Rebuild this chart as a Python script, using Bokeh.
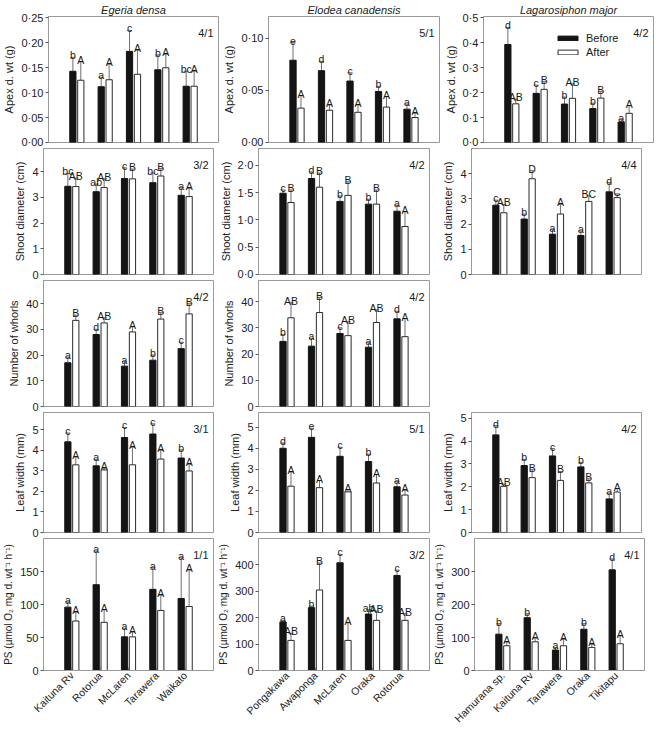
import math
from bokeh.plotting import figure
from bokeh.models import (Range1d, FixedTicker, CustomJSTickFormatter, Whisker, TeeHead,
                          ColumnDataSource, Label, Legend, LegendItem, Spacer)
from bokeh.layouts import row, column
from bokeh.core.properties import value
from bokeh.embed import file_html
from bokeh.resources import INLINE

# ---------------- data ----------------
species = ["Egeria densa", "Elodea canadensis", "Lagarosiphon major"]
cats_eg = ["Kaituna Rv", "Rotorua", "McLaren", "Tarawera", "Waikato"]
cats_el = ["Pongakawa", "Awaponga", "McLaren", "Oraka", "Rotorua"]
cats_la = ["Hamurana sp.", "Kaituna Rv", "Tarawera", "Oraka", "Tikitapu"]

ylabels = ["Apex d. wt (g)", "Shoot diameter (cm)", "Number of whorls", "Leaf width (mm)",
           "PS (\u00b5mol O\u2082 mg d. wt\u207b\u00b9 h\u207b\u00b9)"]

# Egeria densa
eg_apex_b = [0.143, 0.112, 0.183, 0.146, 0.113]
eg_apex_b_se = [0.028, 0.019, 0.042, 0.030, 0.030]
eg_apex_b_let = ["b", "a", "c", "b", "bc"]
eg_apex_a = [0.125, 0.126, 0.137, 0.150, 0.113]
eg_apex_a_se = [0.037, 0.031, 0.048, 0.027, 0.030]
eg_apex_a_let = ["A", "A", "A", "A", "A"]

eg_shoot_b = [3.43, 3.22, 3.73, 3.57, 3.08]
eg_shoot_b_se = [0.50, 0.30, 0.42, 0.38, 0.30]
eg_shoot_b_let = ["bc", "ab", "c", "bc", "a"]
eg_shoot_a = [3.42, 3.38, 3.72, 3.83, 3.03]
eg_shoot_a_se = [0.33, 0.34, 0.38, 0.29, 0.32]
eg_shoot_a_let = ["AB", "AB", "B", "B", "A"]

eg_whorl_b = [17.0, 28.0, 15.7, 18.0, 22.5]
eg_whorl_b_se = [2.2, 2.0, 1.8, 2.0, 2.5]
eg_whorl_b_let = ["a", "d", "a", "b", "c"]
eg_whorl_a = [33.5, 32.5, 29.0, 34.0, 36.0]
eg_whorl_a_se = [2.0, 2.0, 2.0, 2.5, 4.0]
eg_whorl_a_let = ["B", "AB", "A", "B", "B"]

eg_leaf_b = [4.42, 3.25, 4.63, 4.80, 3.63]
eg_leaf_b_se = [0.43, 0.32, 0.49, 0.50, 0.40]
eg_leaf_b_let = ["c", "a", "c", "c", "b"]
eg_leaf_a = [3.30, 3.05, 3.30, 3.58, 3.00]
eg_leaf_a_se = [0.38, 0.08, 0.85, 0.42, 0.32]
eg_leaf_a_let = ["A", "A", "A", "A", "A"]

eg_ps_b = [96, 130, 51, 123, 109]
eg_ps_b_se = [8, 51, 13, 33, 62]
eg_ps_b_let = ["a", "a", "a", "a", "a"]
eg_ps_a = [75, 73, 51, 91, 97]
eg_ps_a_se = [13, 19, 7, 23, 55]
eg_ps_a_let = ["A", "A", "A", "A", "A"]

# Elodea canadensis
el_apex_b = [0.079, 0.069, 0.059, 0.049, 0.032]
el_apex_b_se = [0.017, 0.009, 0.008, 0.005, 0.005]
el_apex_b_let = ["e", "d", "c", "b", "a"]
el_apex_a = [0.033, 0.031, 0.029, 0.034, 0.024]
el_apex_a_se = [0.012, 0.005, 0.007, 0.010, 0.004]
el_apex_a_let = ["A", "A", "A", "A", "A"]

el_shoot_b = [1.49, 1.76, 1.34, 1.29, 1.16]
el_shoot_b_se = [0.06, 0.12, 0.10, 0.09, 0.11]
el_shoot_b_let = ["c", "d", "b", "b", "a"]
el_shoot_a = [1.32, 1.60, 1.45, 1.29, 0.88]
el_shoot_a_se = [0.23, 0.26, 0.25, 0.26, 0.27]
el_shoot_a_let = ["B", "B", "B", "B", "A"]

el_whorl_b = [24.8, 23.0, 27.8, 22.6, 33.4]
el_whorl_b_se = [2.7, 3.0, 2.2, 1.7, 2.9]
el_whorl_b_let = ["b", "a", "c", "a", "d"]
el_whorl_a = [33.8, 35.8, 27.0, 32.0, 26.6]
el_whorl_a_se = [5.7, 5.7, 5.3, 4.8, 6.9]
el_whorl_a_let = ["AB", "B", "AB", "AB", "A"]

el_leaf_b = [4.00, 4.52, 3.62, 3.37, 2.17]
el_leaf_b_se = [0.25, 0.43, 0.43, 0.35, 0.25]
el_leaf_b_let = ["d", "e", "c", "b", "a"]
el_leaf_a = [2.20, 2.13, 1.93, 2.35, 1.78]
el_leaf_a_se = [0.67, 0.34, 0.10, 0.40, 0.22]
el_leaf_a_let = ["A", "A", "A", "A", "A"]

el_ps_b = [184, 238, 408, 214, 360]
el_ps_b_se = [6, 6, 32, 16, 20]
el_ps_b_let = ["a", "b", "c", "ab", "c"]
el_ps_a = [114, 305, 114, 190, 190]
el_ps_a_se = [27, 102, 67, 35, 25]
el_ps_a_let = ["AB", "B", "A", "AB", "AB"]

# Lagarosiphon major
la_apex_b = [0.393, 0.197, 0.154, 0.136, 0.082]
la_apex_b_se = [0.068, 0.033, 0.028, 0.022, 0.010]
la_apex_b_let = ["d", "c", "b", "b", "a"]
la_apex_a = [0.155, 0.213, 0.177, 0.178, 0.117]
la_apex_a_se = [0.019, 0.031, 0.058, 0.026, 0.031]
la_apex_a_let = ["AB", "B", "AB", "B", "A"]

la_shoot_b = [2.75, 2.20, 1.60, 1.55, 3.28]
la_shoot_b_se = [0.20, 0.20, 0.18, 0.18, 0.37]
la_shoot_b_let = ["c", "b", "a", "a", "d"]
la_shoot_a = [2.45, 3.80, 2.40, 2.90, 3.05]
la_shoot_a_se = [0.33, 0.32, 0.38, 0.22, 0.15]
la_shoot_a_let = ["AB", "D", "A", "BC", "C"]

la_leaf_b = [4.27, 2.93, 3.35, 2.87, 1.47]
la_leaf_b_se = [0.41, 0.27, 0.32, 0.20, 0.26]
la_leaf_b_let = ["d", "b", "c", "b", "a"]
la_leaf_a = [2.02, 2.40, 2.28, 2.17, 1.77]
la_leaf_a_se = [0.10, 0.35, 0.39, 0.18, 0.15]
la_leaf_a_let = ["AB", "B", "B", "B", "A"]

la_ps_b = [110, 160, 62, 125, 305]
la_ps_b_se = [32, 12, 8, 17, 33]
la_ps_b_let = ["b", "b", "a", "b", "d"]
la_ps_a = [75, 87, 75, 70, 81]
la_ps_a_se = [11, 11, 19, 9, 24]
la_ps_a_let = ["A", "A", "A", "A", "A"]

# axis scales: (max, ticks, decimals)
eg_axes = [(0.253, [0, 0.05, 0.10, 0.15, 0.20, 0.25], 2), (4.9, [0, 1, 2, 3, 4], 0),
           (49, [0, 10, 20, 30, 40], 0), (5.85, [0, 1, 2, 3, 4, 5], 0), (200, [0, 50, 100, 150], 0)]
el_axes = [(0.121, [0, 0.05, 0.10], 2), (2.31, [0, 0.5, 1.0, 1.5, 2.0], 1),
           (48, [0, 10, 20, 30, 40], 0), (5.7, [0, 1, 2, 3, 4, 5], 0), (500, [0, 100, 200, 300, 400], 0)]
la_axes = [(0.505, [0, 0.1, 0.2, 0.3, 0.4, 0.5], 1), (5.0, [0, 1, 2, 3, 4], 0),
           None, (5.25, [0, 1, 2, 3, 4, 5], 0), (400, [0, 100, 200, 300], 0)]

eg_codes = ["4/1", "3/2", "4/2", "3/1", "1/1"]
el_codes = ["5/1", "4/2", "4/2", "5/1", "3/2"]
la_codes = ["4/2", "4/4", None, "4/2", "4/1"]

legend_labels = ["Before", "After"]

# ---------------- layout / style ----------------
FONT = "Liberation Sans"
FRAME_W = [170, 171, 170]
BORDER_L = [43, 43, 40]
BORDER_R = [2, 2, 2]
FRAME_H = [126, 126, 126, 120, 132]
BORDER_T = [16, 1, 1, 1, 1]
BORDER_B = [5, 5, 5, 5, 52]
FRAME_COLOR = "#9a9a9a"
ERR_COLOR = "#707070"
BLACK = "#141414"


def make_panel(ci, ri, b, bse, blet, a, ase, alet, axes, ylabel, code, cats, title, legend):
    ymax, ticks, dec = axes
    fw, fh = FRAME_W[ci], FRAME_H[ri]
    kw = {}
    if title:
        kw["title"] = title
    p = figure(frame_width=fw, frame_height=fh, x_range=Range1d(0, 6), y_range=Range1d(0, ymax),
               output_backend="svg", toolbar_location=None,
               min_border_left=BORDER_L[ci], min_border_right=BORDER_R[ci],
               min_border_top=BORDER_T[ri], min_border_bottom=BORDER_B[ri], **kw)
    p.outline_line_color = FRAME_COLOR
    p.outline_line_width = 1
    p.grid.visible = False
    p.background_fill_color = "white"
    p.border_fill_color = "white"
    if title:
        p.title.text_font = FONT
        p.title.text_font_style = "italic"
        p.title.text_font_size = "11px"
        p.title.text_color = "#222222"
        p.title.align = "center"
        p.title.standoff = 2

    ya = p.yaxis[0]
    ya.ticker = FixedTicker(ticks=ticks)
    ya.formatter = CustomJSTickFormatter(args=dict(d=dec),
                                         code="return tick.toFixed(d).replace('.', '\u00b7');")
    ya.axis_label = ylabel
    ya.axis_label_text_font = FONT
    ya.axis_label_text_font_style = "normal"
    ya.axis_label_text_font_size = "10px" if ri == 4 else "11px"
    ya.axis_label_text_color = "#222222"
    ya.axis_label_standoff = 3
    ya.major_label_text_font = FONT
    ya.major_label_text_font_size = "11px"
    ya.major_label_text_color = "#222222"
    ya.major_label_standoff = 2
    ya.major_tick_out = 3
    ya.major_tick_in = 0
    ya.minor_tick_out = 0
    ya.minor_tick_in = 0
    ya.axis_line_color = FRAME_COLOR
    ya.major_tick_line_color = "#555555"

    xa = p.xaxis[0]
    if cats is not None:
        xa.ticker = FixedTicker(ticks=[1, 2, 3, 4, 5])
        xa.major_tick_in = 3
        xa.major_tick_out = 0
        xa.minor_tick_in = 0
        xa.minor_tick_out = 0
        xa.axis_line_color = FRAME_COLOR
        xa.major_tick_line_color = "#777777"
        xa.formatter = CustomJSTickFormatter(
            args=dict(labels=cats),
            code="const i = Math.round(tick) - 1; return (i >= 0 && i < labels.length) ? labels[i] : '';")
        xa.major_label_orientation = math.pi / 4
        xa.major_label_text_font = FONT
        xa.major_label_text_font_size = "10.5px"
        xa.major_label_text_color = "#222222"
        xa.major_label_standoff = 3
    else:
        xa.visible = False

    xs = [1, 2, 3, 4, 5]
    off, bw = 0.14, 0.22
    xb = [x - off for x in xs]
    xw = [x + off for x in xs]
    rb = p.vbar(x=xb, top=b, width=bw, fill_color=BLACK, line_color=BLACK, line_width=1)
    rw = p.vbar(x=xw, top=a, width=bw, fill_color="white", line_color="#2a2a2a", line_width=1)

    for xx, vals, ses, lets in ((xb, b, bse, blet), (xw, a, ase, alet)):
        tops = [v + s for v, s in zip(vals, ses)]
        src = ColumnDataSource(dict(x=xx, lower=vals, upper=tops, let=lets))
        wk = Whisker(source=src, base="x", lower="lower", upper="upper",
                     line_color=ERR_COLOR, line_width=1, lower_head=None,
                     upper_head=TeeHead(size=5, line_color=ERR_COLOR, line_width=1))
        p.add_layout(wk)
        p.text(x="x", y="upper", text="let", source=src, text_align="center",
               text_baseline="alphabetic", y_offset=-2, text_font=value(FONT),
               text_font_size="10.5px", text_color="#1a1a1a")

    if code:
        p.add_layout(Label(x=fw - 5, y=fh - 16, x_units="screen", y_units="screen", text=code,
                           text_align="right", text_baseline="middle", text_font=FONT,
                           text_font_size="11px", text_color="#1a1a1a"))

    if legend:
        lg = Legend(items=[LegendItem(label=legend_labels[0], renderers=[rb]),
                           LegendItem(label=legend_labels[1], renderers=[rw])],
                    location=(72, fh - 16 - 26), orientation="vertical",
                    glyph_width=25, glyph_height=6, label_height=12, label_standoff=6,
                    spacing=2, padding=0, margin=0, border_line_alpha=0,
                    background_fill_alpha=0, label_text_font=FONT,
                    label_text_font_size="11px", label_text_color="#1a1a1a")
        p.add_layout(lg, "center")
    return p


groups = [
    ("eg", cats_eg, eg_axes, eg_codes, [
        (eg_apex_b, eg_apex_b_se, eg_apex_b_let, eg_apex_a, eg_apex_a_se, eg_apex_a_let),
        (eg_shoot_b, eg_shoot_b_se, eg_shoot_b_let, eg_shoot_a, eg_shoot_a_se, eg_shoot_a_let),
        (eg_whorl_b, eg_whorl_b_se, eg_whorl_b_let, eg_whorl_a, eg_whorl_a_se, eg_whorl_a_let),
        (eg_leaf_b, eg_leaf_b_se, eg_leaf_b_let, eg_leaf_a, eg_leaf_a_se, eg_leaf_a_let),
        (eg_ps_b, eg_ps_b_se, eg_ps_b_let, eg_ps_a, eg_ps_a_se, eg_ps_a_let)]),
    ("el", cats_el, el_axes, el_codes, [
        (el_apex_b, el_apex_b_se, el_apex_b_let, el_apex_a, el_apex_a_se, el_apex_a_let),
        (el_shoot_b, el_shoot_b_se, el_shoot_b_let, el_shoot_a, el_shoot_a_se, el_shoot_a_let),
        (el_whorl_b, el_whorl_b_se, el_whorl_b_let, el_whorl_a, el_whorl_a_se, el_whorl_a_let),
        (el_leaf_b, el_leaf_b_se, el_leaf_b_let, el_leaf_a, el_leaf_a_se, el_leaf_a_let),
        (el_ps_b, el_ps_b_se, el_ps_b_let, el_ps_a, el_ps_a_se, el_ps_a_let)]),
    ("la", cats_la, la_axes, la_codes, [
        (la_apex_b, la_apex_b_se, la_apex_b_let, la_apex_a, la_apex_a_se, la_apex_a_let),
        (la_shoot_b, la_shoot_b_se, la_shoot_b_let, la_shoot_a, la_shoot_a_se, la_shoot_a_let),
        None,
        (la_leaf_b, la_leaf_b_se, la_leaf_b_let, la_leaf_a, la_leaf_a_se, la_leaf_a_let),
        (la_ps_b, la_ps_b_se, la_ps_b_let, la_ps_a, la_ps_a_se, la_ps_a_let)]),
]

rows = []
for ri in range(5):
    figs = []
    for ci, (key, cats, axes, codes, panels) in enumerate(groups):
        pdata = panels[ri]
        if pdata is None:
            figs.append(Spacer(width=BORDER_L[ci] + FRAME_W[ci] + BORDER_R[ci],
                               height=BORDER_T[ri] + FRAME_H[ri] + BORDER_B[ri]))
            continue
        figs.append(make_panel(ci, ri, *pdata, axes[ri], ylabels[ri], codes[ri],
                               cats if ri == 4 else None,
                               species[ci] if ri == 0 else None,
                               legend=(ci == 2 and ri == 0)))
    rows.append(row(*figs))

layout = column(*rows)

with open("out.html", "w", encoding="utf-8") as f:
    f.write(file_html(layout, INLINE))
